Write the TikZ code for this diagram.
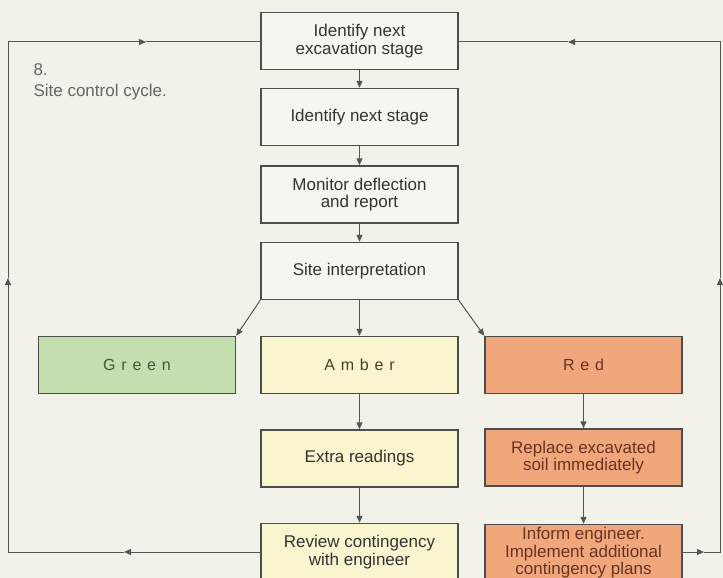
\documentclass[tikz,border=0pt]{standalone}
\usepackage{fontspec}
\setmainfont{Liberation Sans}
\usetikzlibrary{arrows.meta}
\definecolor{bgc}{HTML}{F2F1EA}
\definecolor{boxc}{HTML}{F6F5F0}
\definecolor{greenc}{HTML}{C3DEAF}
\definecolor{amberc}{HTML}{F8F5CF}
\definecolor{redc}{HTML}{F0A77C}
\definecolor{edgec}{HTML}{4D4D4D}
\definecolor{linec}{HTML}{555555}
\definecolor{txtc}{HTML}{333333}
\definecolor{titlec}{HTML}{666666}
\definecolor{greentxt}{HTML}{46553C}
\definecolor{ambertxt}{HTML}{463F30}
\definecolor{redtxt}{HTML}{6A3320}
\begin{document}
\begin{tikzpicture}[x=1pt,y=-1pt,
  stagebox/.style={draw=edgec, line width=1.4pt, fill=boxc, minimum width=197pt, minimum height=57pt,
    inner sep=0pt, align=center, text=txtc, font=\fontsize{17}{17.5}\selectfont},
  greenbox/.style={stagebox, fill=greenc, text=greentxt,
    font=\fontsize{16}{18}\selectfont\addfontfeature{LetterSpace=36}},
  amberbox/.style={stagebox, fill=amberc, text=ambertxt,
    font=\fontsize{16}{18}\selectfont\addfontfeature{LetterSpace=36}},
  redbox/.style={stagebox, fill=redc, text=redtxt,
    font=\fontsize{16}{18}\selectfont\addfontfeature{LetterSpace=36}},
  redstep/.style={stagebox, fill=redc, text=redtxt},
  amberstep/.style={stagebox, fill=amberc},
  conn/.style={draw=linec, line width=1pt},
  arr/.style={conn, -{Triangle[length=7pt,width=6pt]}}
]
\fill[bgc] (0,0) rectangle (723,578);
\useasboundingbox (0,0) rectangle (723,578);

\node[anchor=north west, align=left, text=titlec, font=\fontsize{17}{21}\selectfont] (title) at (30,60) {8.\\Site control cycle.};

\node[stagebox] (b1) at (359.5,41) {Identify next\\excavation stage};
\node[stagebox] (b2) at (359.5,117) {Identify next stage};
\node[stagebox] (b3) at (359.5,194.5) {Monitor deflection\\and report};
\node[stagebox] (b4) at (359.5,271) {Site interpretation};

\node[greenbox] (green) at (137,365) {Green};
\node[amberbox] (amber) at (359.5,365) {Amber};
\node[redbox] (red) at (583.5,365) {Red};

\node[amberstep] (extra) at (359.5,458.5) {Extra readings};
\node[redstep] (replace) at (583.5,457.5) {Replace excavated\\soil immediately};
\node[amberstep] (review) at (359.5,552) {Review contingency\\with engineer};
\node[redstep] (inform) at (583.5,553) {Inform engineer.\\Implement additional\\contingency plans};

% vertical flow
\draw[arr] (b1.south) -- (b2.north);
\draw[arr] (b2.south) -- (b3.north);
\draw[arr] (b3.south) -- (b4.north);
\draw[arr] (b4.south west) -- (green.north east);
\draw[arr] (b4.south) -- (amber.north);
\draw[arr] (b4.south east) -- (red.north west);
\draw[arr] (amber.south) -- (extra.north);
\draw[arr] (extra.south) -- (review.north);
\draw[arr] (red.south) -- (replace.north);
\draw[arr] (replace.south) -- (inform.north);

% left loop
\coordinate (aL1) at (124,552);
\coordinate (cBL) at (8,552);
\coordinate (aL2) at (8,278);
\coordinate (cTL) at (8,42);
\coordinate (aL3) at (146,42);
\draw[arr] (review.west) -- (aL1);
\draw[arr] (aL1) -- (cBL) -- (aL2);
\draw[arr] (aL2) -- (cTL) -- (aL3);
\draw[conn] (aL3) -- (b1.west |- aL3);

% right loop
\coordinate (aR1) at (704,552);
\coordinate (cBR) at (720,552);
\coordinate (aR2) at (720,278);
\coordinate (cTR) at (720,42);
\coordinate (aR3) at (568,42);
\draw[arr] (inform.east |- aR1) -- (aR1);
\draw[arr] (aR1) -- (cBR) -- (aR2);
\draw[arr] (aR2) -- (cTR) -- (aR3);
\draw[conn] (aR3) -- (b1.east |- aR3);
\end{tikzpicture}
\end{document}
